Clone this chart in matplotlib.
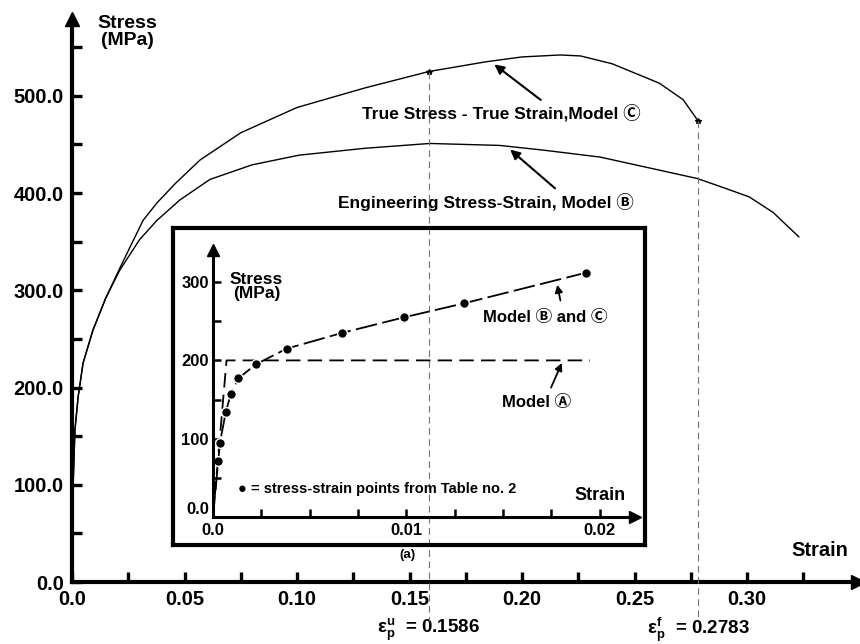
import numpy as np
import matplotlib
matplotlib.use('Agg')
import matplotlib.pyplot as plt
from matplotlib.ticker import MultipleLocator, FixedLocator, FixedFormatter

plt.rcParams['font.family'] = ['Liberation Sans', 'DejaVu Sans', 'Noto Sans CJK JP']
plt.rcParams['font.weight'] = 'bold'
plt.rcParams['mathtext.fontset'] = 'custom'
plt.rcParams['mathtext.rm'] = 'Liberation Sans:bold'
plt.rcParams['mathtext.bf'] = 'Liberation Sans:bold'
plt.rcParams['mathtext.it'] = 'Liberation Sans:bold'

# ---- main curves: strain (-) vs stress (MPa) ----
true_strain = [0.0, 0.0005, 0.0013, 0.0027, 0.0049, 0.0093, 0.0150, 0.0213, 0.0316, 0.0378,
               0.046, 0.0569, 0.075, 0.100, 0.130, 0.1586, 0.184, 0.200, 0.217, 0.226,
               0.240, 0.261, 0.2716, 0.2783]
true_stress = [0, 100, 156, 190, 225, 259, 292, 323, 372, 390,
               410, 434, 462, 488, 508, 525, 535, 540, 542, 541,
               533, 513, 496, 474]

eng_strain = [0.0, 0.0005, 0.0013, 0.0027, 0.0049, 0.0093, 0.0150, 0.0213, 0.0300, 0.0378,
              0.048, 0.0613, 0.080, 0.101, 0.130, 0.159, 0.190, 0.210, 0.2347, 0.2778,
              0.289, 0.301, 0.3116, 0.323]
eng_stress = [0, 100, 156, 190, 225, 259, 292, 321, 352, 372,
              393, 414, 429, 439, 446, 451, 449, 444, 437, 415,
              406, 396, 380, 355]

# necking / fracture points on the true curve
eps_u, sig_u = 0.1586, 525
eps_f, sig_f = 0.2783, 474

# ---- inset (a): table points and Model A ----
table_strain = [0.0, 0.00027, 0.00036, 0.00066, 0.00092, 0.00131, 0.00222, 0.00381,
                0.00666, 0.00988, 0.0130, 0.0193]
table_stress = [0, 71, 95, 134, 157, 177, 195, 215, 235, 255, 273, 312]
modelA_strain = [0.0, 0.0007, 0.0195]
modelA_stress = [0, 200, 200]

main_xticks = [0.0, 0.05, 0.10, 0.15, 0.20, 0.25, 0.30]
main_xlabels = ['0.0', '0.05', '0.10', '0.15', '0.20', '0.25', '0.30']
main_yticks = [0, 100, 200, 300, 400, 500]
main_ylabels = ['0.0', '100.0', '200.0', '300.0', '400.0', '500.0']
inset_xticks = [0.0, 0.01, 0.02]
inset_xlabels = ['0.0', '0.01', '0.02']
inset_yticks = [0, 100, 200, 300]
inset_ylabels = ['0.0', '100', '200', '300']

W, H = 860, 644
fig = plt.figure(figsize=(W / 100, H / 100), dpi=100)


def rect(l, t, r, b):
    return [l / W, 1 - b / H, (r - l) / W, (b - t) / H]


# ---------------- main axes ----------------
ax = fig.add_axes(rect(72, 19, 858, 582))
ax.set_xlim(0, 0.3493)
ax.set_ylim(0, 579)
for s in ['top', 'right']:
    ax.spines[s].set_visible(False)
for s in ['left', 'bottom']:
    ax.spines[s].set_linewidth(3)
ax.plot(1, 0, '>k', ms=10, transform=ax.transAxes, clip_on=False)
ax.plot(0, 1, '^k', ms=10, transform=ax.transAxes, clip_on=False)

ax.xaxis.set_major_locator(FixedLocator(main_xticks))
ax.xaxis.set_major_formatter(FixedFormatter(main_xlabels))
ax.xaxis.set_minor_locator(MultipleLocator(0.025))
ax.yaxis.set_major_locator(FixedLocator(main_yticks))
ax.yaxis.set_major_formatter(FixedFormatter(main_ylabels))
ax.yaxis.set_minor_locator(MultipleLocator(50))
ax.tick_params(which='both', direction='in', length=7, width=2.4)
ax.tick_params(axis='x', which='major', pad=6, labelsize=14.5)
ax.tick_params(axis='y', which='major', pad=6, labelsize=14.5)

ax.plot(true_strain, true_stress, color='black', lw=1.0)
ax.plot(eng_strain, eng_stress, color='black', lw=1.0)
ax.plot([eps_u, eps_f], [sig_u, sig_f], '*', color='black', ms=4)

for e, s in [(eps_u, sig_u), (eps_f, sig_f)]:
    ax.plot([e, e], [s, -40], color='0.45', lw=0.8, dashes=(6, 4), clip_on=False, zorder=5)

ax.text(eps_u, -49, r'$\mathbf{\varepsilon}_\mathbf{p}^\mathbf{u}$  = 0.1586', ha='center',
        va='center', fontsize=13.5, clip_on=False)
ax.text(eps_f, -49, r'$\mathbf{\varepsilon}_\mathbf{p}^\mathbf{f}$  = 0.2783', ha='center',
        va='center', fontsize=13.5, clip_on=False)

fig.text(127 / W, 1 - 32 / H, 'Stress\n(MPa)', ha='center', va='center', fontsize=14,
         linespacing=0.95)
fig.text(820 / W, 1 - 551 / H, 'Strain', ha='center', va='center', fontsize=14.5)

ax.annotate('', xy=(0.1867, 534), xytext=(0.2093, 494),
            arrowprops=dict(arrowstyle='-|>', color='black', lw=1.5, mutation_scale=14))
ax.text(0.1907, 482.5, 'True Stress - True Strain,Model \u24b8', ha='center', va='center',
        fontsize=12.5)
ax.annotate('', xy=(0.1938, 446.5), xytext=(0.2156, 403),
            arrowprops=dict(arrowstyle='-|>', color='black', lw=1.5, mutation_scale=14))
ax.text(0.1838, 391, 'Engineering Stress-Strain, Model \u24b7', ha='center', va='center',
        fontsize=12.5)

# ---------------- inset (a) ----------------
box = fig.add_axes(rect(173, 228, 645, 545))
box.set_xticks([])
box.set_yticks([])
box.patch.set_alpha(0)
for s in box.spines.values():
    s.set_linewidth(3)

ins = fig.add_axes(rect(213, 250, 635, 517))
ins.patch.set_alpha(0)
ins.set_xlim(0, 0.02183)
ins.set_ylim(0, 341)
for s in ['top', 'right']:
    ins.spines[s].set_visible(False)
for s in ['left', 'bottom']:
    ins.spines[s].set_linewidth(2.2)
ins.plot(1, 0, '>k', ms=9, transform=ins.transAxes, clip_on=False)
ins.plot(0, 1, '^k', ms=9, transform=ins.transAxes, clip_on=False)
ins.xaxis.set_major_locator(FixedLocator(inset_xticks))
ins.xaxis.set_major_formatter(FixedFormatter(inset_xlabels))
ins.xaxis.set_minor_locator(MultipleLocator(0.0025))
ins.yaxis.set_major_locator(FixedLocator(inset_yticks))
ins.yaxis.set_major_formatter(FixedFormatter(inset_ylabels))
ins.yaxis.set_minor_locator(MultipleLocator(50))
ins.tick_params(which='both', direction='in', length=6, width=1.8, labelsize=12)
ins.tick_params(axis='x', pad=4)
ins.tick_params(axis='y', pad=3)
ins.get_yticklabels()[0].set_verticalalignment('bottom')

ins.plot(modelA_strain, modelA_stress, color='black', lw=1.3, dashes=(8, 4))
ins.plot(table_strain, table_stress, color='black', lw=1.3, dashes=(12, 3),
         marker='o', ms=7, markevery=list(range(1, len(table_strain))),
         mec='white', mew=1.0, mfc='black')

ins.text(0.0172, 255, 'Model \u24b7 and \u24b8', ha='center', va='center', fontsize=12)
ins.annotate('', xy=(0.01778, 300), xytext=(0.0180, 273),
             arrowprops=dict(arrowstyle='-|>', color='black', lw=1.3, mutation_scale=11))
ins.text(0.01676, 146, 'Model \u24b6', ha='center', va='center', fontsize=12)
ins.annotate('', xy=(0.0181, 200), xytext=(0.01743, 162),
             arrowprops=dict(arrowstyle='-|>', color='black', lw=1.3, mutation_scale=11))

fig.text(256.5 / W, 1 - 286.5 / H, 'Stress\n(MPa)', ha='center', va='center', fontsize=12.5,
         linespacing=0.95)
fig.text(600 / W, 1 - 495 / H, 'Strain', ha='center', va='center', fontsize=13)
fig.text(238 / W, 1 - 489 / H, '\u25cf = stress-strain points from Table no. 2', ha='left',
         va='center', fontsize=10.5)
fig.text(407 / W, 1 - 555 / H, '(a)', ha='center', va='center', fontsize=9.5)

fig.savefig('out.png', dpi=100)
